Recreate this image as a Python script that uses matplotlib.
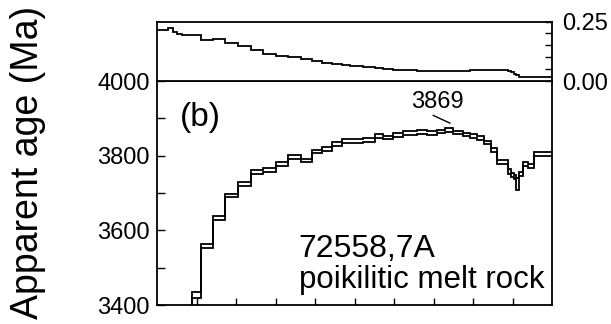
import matplotlib
matplotlib.use("Agg")
import matplotlib.pyplot as plt
import numpy as np

plt.rcParams['font.family'] = ['Liberation Sans', 'DejaVu Sans']

# cumulative 39Ar fraction released (step edges)
edges = [0.0, 0.028, 0.041, 0.051, 0.063, 0.089, 0.111, 0.142, 0.173, 0.205,
         0.238, 0.268, 0.301, 0.332, 0.365, 0.392, 0.418, 0.443, 0.468, 0.489,
         0.522, 0.552, 0.572, 0.597, 0.623, 0.658, 0.684, 0.709, 0.729, 0.749,
         0.775, 0.792, 0.810, 0.828, 0.846, 0.861, 0.889, 0.896, 0.904, 0.910,
         0.916, 0.927, 0.939, 0.954, 1.0]

# apparent ages (Ma) per step
ages = [3200, 3250, 3300, 3320, 3350, 3428, 3559, 3633, 3693, 3724,
        3757, 3761, 3777, 3796, 3787, 3811, 3817, 3831, 3840, 3839,
        3841, 3853, 3849, 3855, 3860, 3863, 3860, 3865, 3869, 3862,
        3857, 3853, 3848, 3835, 3816, 3783, 3757, 3748, 3743, 3723,
        3751, 3777, 3773, 3804]

# 1-sigma errors (Ma) per step
errors = [10, 10, 10, 10, 10, 8, 5, 5, 5, 5,
          5, 5, 5, 5, 5, 5, 5, 5, 5, 5,
          5, 5, 5, 5, 5, 5, 5, 5, 5, 5,
          5, 5, 5, 5, 5, 5, 6, 6, 6, 16,
          5, 5, 5, 5]

# ratio shown in upper panel per step
ratio = [0.2125, 0.221, 0.204, 0.196, 0.192, 0.192, 0.171, 0.178, 0.161, 0.147,
         0.129, 0.115, 0.106, 0.099, 0.092, 0.082, 0.077, 0.070, 0.066, 0.062,
         0.057, 0.054, 0.051, 0.048, 0.046, 0.044, 0.042, 0.041, 0.040, 0.040,
         0.041, 0.045, 0.047, 0.047, 0.047, 0.045, 0.040, 0.036, 0.030, 0.024,
         0.018, 0.017, 0.017, 0.017]

age_ticks = [3400, 3600, 3800, 4000]
ratio_ticks = [0.0, 0.25]

fig = plt.figure(figsize=(6.11, 3.24), dpi=100)
W, H = 611.0, 324.0
left, right = 157 / W, 552 / W
ax = fig.add_axes([left, (H - 305) / H, right - left, 224 / H])
axt = fig.add_axes([left, (H - 81) / H, right - left, 59.5 / H])

up = np.array(ages) + np.array(errors)
lo = np.array(ages) - np.array(errors)
ax.stairs(up, edges, color='black', lw=1.3, baseline=None)
ax.stairs(lo, edges, color='black', lw=1.3, baseline=None)
ax.set_xlim(0, 1)
ax.set_ylim(3400, 4000)
ax.set_yticks(age_ticks)
ax.set_yticks([3500, 3700, 3900], minor=True)
ax.set_xticks(np.arange(0.1, 0.95, 0.1))
ax.tick_params(axis='x', direction='in', length=5, width=1.0, labelbottom=False)
ax.tick_params(axis='y', which='both', direction='in', length=6, width=1.0,
               labelsize=17, pad=5)
for s in ax.spines.values():
    s.set_linewidth(1.3)

ax.text(0.058, 0.799, '(b)', transform=ax.transAxes, fontsize=24,
        va='baseline', ha='left')
ax.text(0.357, 0.214, '72558,7A', transform=ax.transAxes, fontsize=23,
        va='baseline', ha='left')
ax.text(0.359, 0.076, 'poikilitic melt rock', transform=ax.transAxes,
        fontsize=22.5, va='baseline', ha='left')
ax.text(0.709, 3928, '3869', fontsize=17, ha='center', va='baseline')
ax.annotate('', xy=(0.742, 3887), xytext=(0.699, 3908),
            arrowprops=dict(arrowstyle='-', color='black', lw=1.0,
                            shrinkA=0, shrinkB=0))

axt.stairs(ratio, edges, color='black', lw=1.3, baseline=None)
axt.set_xlim(0, 1)
axt.set_ylim(0, 0.25)
axt.set_xticks([])
axt.yaxis.tick_right()
axt.set_yticks(ratio_ticks)
axt.set_yticklabels(['0.00', '0.25'])
axt.set_yticks([0.05, 0.10, 0.15, 0.20], minor=True)
axt.tick_params(axis='y', which='both', direction='in', length=5, width=1.0,
                labelsize=17, pad=7)
for s in axt.spines.values():
    s.set_linewidth(1.3)

fig.text(28 / W, 0.5, 'Apparent age (Ma)', rotation=90, fontsize=27,
         ha='center', va='center')

fig.savefig('out.png', dpi=100)
